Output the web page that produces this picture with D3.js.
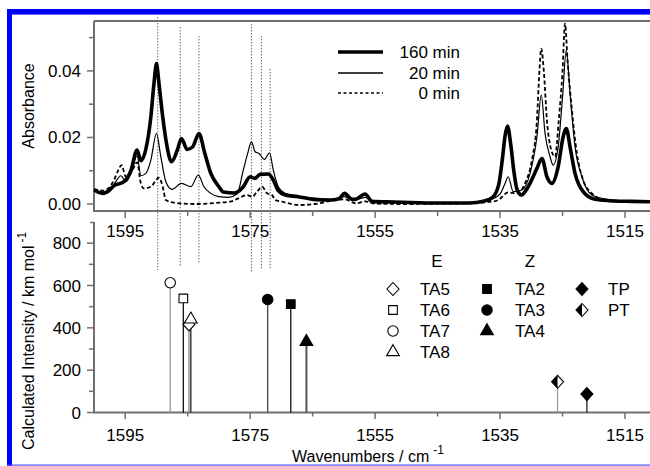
<!DOCTYPE html>
<html><head><meta charset="utf-8">
<script src="https://cdn.jsdelivr.net/npm/d3@7"></script>
<style>
html,body{margin:0;padding:0;background:#fff;}
svg{display:block;font-family:"Liberation Sans",Arial,sans-serif;}
</style></head>
<body><svg id="c" width="650" height="466"></svg>
<script>
// ---- data ----
const spec160 = [[1600,0.0042],[1598.6,0.0032],[1597.5,0.0042],[1596.8,0.0055],[1595.2,0.0067],[1594.1,0.0100],[1593.1,0.0162],[1592.5,0.0130],[1591.7,0.0165],[1590.9,0.0262],[1590.4,0.0362],[1590.0,0.0422],[1589.6,0.0362],[1589.0,0.0262],[1588.3,0.0172],[1587.6,0.0127],[1586.7,0.0160],[1586.0,0.0197],[1585.1,0.0164],[1584.2,0.0172],[1583.2,0.0212],[1582.3,0.0155],[1581.3,0.0092],[1580.0,0.0052],[1579.3,0.0036],[1577.5,0.0033],[1576.1,0.0052],[1575.0,0.0082],[1574.3,0.0077],[1573.4,0.0089],[1572.1,0.0090],[1571.3,0.0072],[1570.5,0.0040],[1569.4,0.0027],[1567.3,0.0022],[1564.9,0.0014],[1562.2,0.0012],[1560.8,0.0016],[1559.9,0.0032],[1558.8,0.0015],[1558.2,0.0014],[1556.6,0.0030],[1555.5,0.0008],[1552,0.0006],[1548,0.0004],[1544,0.0003],[1540,0.0003],[1537.5,0.0009],[1536.2,0.0020],[1535.2,0.0060],[1534.6,0.0140],[1534.2,0.0205],[1533.8,0.0234],[1533.3,0.0180],[1532.8,0.0100],[1532.3,0.0045],[1531.6,0.0027],[1530.5,0.0052],[1529.1,0.0107],[1528.3,0.0137],[1527.5,0.0082],[1526.7,0.0062],[1525.7,0.0112],[1524.9,0.0202],[1524.4,0.0227],[1523.8,0.0172],[1523.0,0.0092],[1521.7,0.0037],[1519.8,0.0014],[1517.5,0.0010],[1514,0.0008],[1511,0.0007]];
const spec20 = [[1600,0.0040],[1598.5,0.0036],[1596.8,0.0060],[1595.7,0.0085],[1594.9,0.0067],[1594.1,0.0092],[1593.1,0.0145],[1592.5,0.0085],[1591.7,0.0092],[1590.9,0.0132],[1590.0,0.0212],[1589.3,0.0142],[1588.5,0.0067],[1587.5,0.0044],[1586.0,0.0062],[1584.5,0.0052],[1583.3,0.0087],[1582.4,0.0052],[1581.3,0.0032],[1580.0,0.0022],[1578.5,0.0020],[1577.1,0.0030],[1576.1,0.0102],[1575.4,0.0152],[1574.8,0.0187],[1574.2,0.0157],[1573.6,0.0152],[1572.7,0.0134],[1571.9,0.0154],[1571.3,0.0102],[1570.5,0.0052],[1569.4,0.0032],[1567.3,0.0022],[1564.6,0.0017],[1562.2,0.0012],[1559.9,0.0022],[1558.5,0.0010],[1556.6,0.0020],[1555.3,0.0006],[1550,0.0004],[1545,0.0003],[1540,0.0003],[1537.1,0.0010],[1535.0,0.0030],[1534.2,0.0062],[1533.7,0.0082],[1532.9,0.0037],[1531.5,0.0042],[1530.2,0.0092],[1529.1,0.0202],[1528.4,0.0327],[1527.8,0.0212],[1527.0,0.0142],[1526.5,0.0117],[1525.7,0.0172],[1525.0,0.0322],[1524.4,0.0462],[1523.8,0.0332],[1523.0,0.0172],[1521.9,0.0082],[1520.3,0.0027],[1518.1,0.0015],[1515,0.0009],[1511,0.0008]];
const spec0 = [[1600,0.0045],[1598.5,0.0040],[1596.8,0.0072],[1596.1,0.0102],[1595.6,0.0117],[1594.9,0.0082],[1594.1,0.0092],[1593.1,0.0125],[1592.5,0.0062],[1592.0,0.0047],[1590.9,0.0052],[1589.6,0.0079],[1589.0,0.0052],[1588.5,0.0012],[1587.2,0.0004],[1584.0,0.0000],[1580.0,0.0004],[1578.0,0.0008],[1576.9,0.0017],[1575.5,0.0027],[1574.7,0.0022],[1573.9,0.0037],[1573.1,0.0052],[1572.3,0.0032],[1571.5,0.0027],[1571.0,0.0012],[1569.9,0.0007],[1567.3,-0.0003],[1564.6,0.0000],[1561.4,0.0012],[1559.9,0.0014],[1558,0.0002],[1556.6,0.0008],[1555,0.0001],[1550,0.0000],[1545,0.0001],[1540,0.0002],[1536,0.0008],[1535.3,0.0012],[1533.7,0.0035],[1532.3,0.0032],[1531.0,0.0062],[1529.9,0.0132],[1529.1,0.0252],[1528.7,0.0400],[1528.4,0.0467],[1528.0,0.0400],[1527.5,0.0252],[1526.8,0.0162],[1526.2,0.0142],[1525.6,0.0252],[1525.0,0.0400],[1524.6,0.0542],[1524.2,0.0432],[1523.5,0.0282],[1522.7,0.0152],[1521.7,0.0072],[1520.3,0.0032],[1518.2,0.0012],[1515,0.0009],[1511,0.0008]];
const seriesNames = ["160 min","20 min","0 min"];

const calcNames = ["TA7","TA6","TA5","TA8","TA3","TA2","TA4","PT","TP"];
const calcWn = [1587.8,1585.7,1584.8,1584.5,1572.2,1568.5,1566.0,1525.8,1521.1];
const calcInt = [613,539,416,440,534,512,334,145,87];

const dotWn = [1589.8,1586.2,1583.2,1574.8,1573.2,1571.8];
const dotTopAbs = [0.0561,0.0531,0.0504,0.0540,0.0504,0.0405];
const dotBotInt = [673,687,706,663,678,682];

const xMajor = [1595,1575,1555,1535,1515];
const xMinor = [1585,1565,1545,1525];
const yTopMajor = [0,0.02,0.04];
const yTopMinor = [0.01,0.03,0.05];
const yBotMajor = [0,200,400,600,800];
const yBotMinor = [100,300,500,700];

const legendE = ["TA5","TA6","TA7","TA8"];
const legendZ = ["TA2","TA3","TA4"];
const legendO = ["TP","PT"];

// ---- drawing ----
const svg = d3.select("#c");
const AX = "#707070";
const x = d3.scaleLinear().domain([1600,1511]).range([94,650]);
const yT = d3.scaleLinear().domain([-0.0021,0.055]).range([211,21]);
const yB = d3.scaleLinear().domain([0,900]).range([412.5,222]);

// blue frame
svg.append("rect").attr("x",7).attr("y",9).attr("width",643).attr("height",5).attr("fill","#0000ff");
svg.append("rect").attr("x",7).attr("y",9).attr("width",5).attr("height",457).attr("fill","#0000ff");
svg.append("rect").attr("x",12).attr("y",14).attr("width",638).attr("height",1).attr("fill","#6a6aff");
svg.append("rect").attr("x",7).attr("y",464.5).attr("width",643).attr("height",1.2).attr("fill","#5050ff");

// dotted guide lines
dotWn.forEach((w,i)=>{
  svg.append("line").attr("x1",x(w)).attr("x2",x(w))
    .attr("y1",yT(dotTopAbs[i])).attr("y2",yB(dotBotInt[i]))
    .attr("stroke","#222").attr("stroke-width",1).attr("stroke-dasharray","1,2");
});

// top axes
const gT = svg.append("g");
gT.append("line").attr("x1",94).attr("x2",650).attr("y1",21).attr("y2",21).attr("stroke",AX).attr("stroke-width",2);
gT.append("line").attr("x1",94).attr("x2",94).attr("y1",21).attr("y2",211).attr("stroke",AX).attr("stroke-width",2);
gT.append("line").attr("x1",93).attr("x2",650).attr("y1",211).attr("y2",211).attr("stroke",AX).attr("stroke-width",2);
yTopMajor.forEach(v=>{
  gT.append("line").attr("x1",87).attr("x2",94).attr("y1",yT(v)).attr("y2",yT(v)).attr("stroke",AX).attr("stroke-width",1.5);
  gT.append("text").attr("x",81).attr("y",yT(v)+6).attr("text-anchor","end").attr("font-size",17).text(d3.format(".2f")(v));
});
yTopMinor.forEach(v=>{
  gT.append("line").attr("x1",89).attr("x2",94).attr("y1",yT(v)).attr("y2",yT(v)).attr("stroke",AX).attr("stroke-width",1.5);
});
xMajor.forEach(v=>{
  gT.append("line").attr("x1",x(v)).attr("x2",x(v)).attr("y1",211).attr("y2",218).attr("stroke",AX).attr("stroke-width",1.5);
  gT.append("text").attr("x",x(v)).attr("y",236.5).attr("text-anchor","middle").attr("font-size",17).text(v);
});
xMinor.forEach(v=>{
  gT.append("line").attr("x1",x(v)).attr("x2",x(v)).attr("y1",211).attr("y2",216).attr("stroke",AX).attr("stroke-width",1.5);
});

// spectra
const line = d3.line().x(d=>x(d[0])).y(d=>yT(d[1])).curve(d3.curveMonotoneX);
svg.append("path").datum(spec0).attr("d",line).attr("fill","none").attr("stroke","#000").attr("stroke-width",1.8).attr("stroke-dasharray","4,2.5");
svg.append("path").datum(spec20).attr("d",line).attr("fill","none").attr("stroke","#000").attr("stroke-width",1.2);
svg.append("path").datum(spec160).attr("d",line).attr("fill","none").attr("stroke","#000").attr("stroke-width",3.6).attr("stroke-linejoin","round");

// top legend
const legStyles = [{w:3.6,d:null},{w:1.3,d:null},{w:1.5,d:"3,2.5"}];
const legY = [52,73,93];
seriesNames.forEach((n,i)=>{
  svg.append("line").attr("x1",338).attr("x2",383).attr("y1",legY[i]).attr("y2",legY[i])
    .attr("stroke","#000").attr("stroke-width",legStyles[i].w).attr("stroke-dasharray",legStyles[i].d);
  svg.append("text").attr("x",460).attr("y",legY[i]+6).attr("text-anchor","end").attr("font-size",17).text(n);
});

// bottom axes
const gB = svg.append("g");
gB.append("line").attr("x1",94).attr("x2",94).attr("y1",222).attr("y2",413).attr("stroke",AX).attr("stroke-width",2);
gB.append("line").attr("x1",90).attr("x2",94).attr("y1",222.5).attr("y2",222.5).attr("stroke",AX).attr("stroke-width",1.5);
gB.append("line").attr("x1",93).attr("x2",650).attr("y1",412.5).attr("y2",412.5).attr("stroke",AX).attr("stroke-width",2);
yBotMajor.forEach(v=>{
  gB.append("line").attr("x1",87).attr("x2",94).attr("y1",yB(v)).attr("y2",yB(v)).attr("stroke",AX).attr("stroke-width",1.5);
  gB.append("text").attr("x",81).attr("y",yB(v)+6).attr("text-anchor","end").attr("font-size",17).text(v);
});
yBotMinor.forEach(v=>{
  gB.append("line").attr("x1",89).attr("x2",94).attr("y1",yB(v)).attr("y2",yB(v)).attr("stroke",AX).attr("stroke-width",1.5);
});
xMajor.forEach(v=>{
  gB.append("line").attr("x1",x(v)).attr("x2",x(v)).attr("y1",412.5).attr("y2",419).attr("stroke",AX).attr("stroke-width",1.5);
  gB.append("text").attr("x",x(v)).attr("y",440.5).attr("text-anchor","middle").attr("font-size",17).text(v);
});
xMinor.forEach(v=>{
  gB.append("line").attr("x1",x(v)).attr("x2",x(v)).attr("y1",412.5).attr("y2",416.5).attr("stroke",AX).attr("stroke-width",1.5);
});

// symbols
function sym(g,type,cx,cy){
  const s = g.append("g").attr("transform",`translate(${cx},${cy})`);
  const dia = "M0,-6.5L6,0L0,6.5L-6,0Z";
  if(type==="oDiamond") s.append("path").attr("d",dia).attr("fill","#fff").attr("stroke","#000").attr("stroke-width",1.1);
  else if(type==="fDiamond") s.append("path").attr("d",dia).attr("fill","#000").attr("stroke","#000").attr("stroke-width",1.1);
  else if(type==="hDiamond"){
    s.append("path").attr("d",dia).attr("fill","#fff").attr("stroke","#000").attr("stroke-width",1.1);
    s.append("path").attr("d","M0,-6.5L0,6.5L-6,0Z").attr("fill","#000");
  } else {
    const map = {oSquare:[d3.symbolSquare,false],fSquare:[d3.symbolSquare,true],oCircle:[d3.symbolCircle,false],fCircle:[d3.symbolCircle,true],oTriangle:[d3.symbolTriangle,false],fTriangle:[d3.symbolTriangle,true]};
    const [t,f] = map[type];
    const size = t===d3.symbolTriangle?70:(t===d3.symbolSquare?75:85);
    s.append("path").attr("d",d3.symbol().type(t).size(size)()).attr("fill",f?"#000":"#fff").attr("stroke","#000").attr("stroke-width",1.1);
  }
}
const symOf = {TA5:"oDiamond",TA6:"oSquare",TA7:"oCircle",TA8:"oTriangle",TA2:"fSquare",TA3:"fCircle",TA4:"fTriangle",TP:"fDiamond",PT:"hDiamond"};
const stemCol = {TA7:"#999",TA6:"#111",TA5:"#888",TA8:"#222",TA3:"#444",TA2:"#111",TA4:"#555",PT:"#999",TP:"#222"};
const stemW = {TA4:2};
const gS = svg.append("g");
calcNames.forEach((n,i)=>{
  gS.append("line").attr("x1",x(calcWn[i])).attr("x2",x(calcWn[i])).attr("y1",yB(0)).attr("y2",yB(calcInt[i]))
    .attr("stroke",stemCol[n]).attr("stroke-width",stemW[n]||1.3);
});
calcNames.forEach((n,i)=>{ sym(gS,symOf[n],x(calcWn[i]),yB(calcInt[i])); });

// bottom legend
svg.append("text").attr("x",437).attr("y",267).attr("text-anchor","middle").attr("font-size",17).text("E");
svg.append("text").attr("x",530).attr("y",267).attr("text-anchor","middle").attr("font-size",17).text("Z");
const rowY = [289,310,331,352];
[[legendE,393,420],[legendZ,487,515],[legendO,582,608]].forEach(([arr,sx,tx])=>{
  arr.forEach((n,i)=>{
    sym(svg,symOf[n],sx,rowY[i]);
    svg.append("text").attr("x",tx).attr("y",rowY[i]+6).attr("font-size",17).text(n);
  });
});

// axis titles
svg.append("text").attr("transform","translate(34,106) rotate(-90)").attr("text-anchor","middle").attr("font-size",16).text("Absorbance");
const t2 = svg.append("text").attr("transform","translate(34,450) rotate(-90)").attr("text-anchor","start").attr("font-size",16);
t2.append("tspan").text("Calculated Intensity / km mol");
t2.append("tspan").attr("dx",3).attr("dy",-8).attr("font-size",12).text("-1");
const t3 = svg.append("text").attr("x",292).attr("y",462).attr("font-size",16);
t3.append("tspan").text("Wavenumbers / cm");
t3.append("tspan").attr("dx",4).attr("dy",-8).attr("font-size",12).text("-1");
</script></body></html>
